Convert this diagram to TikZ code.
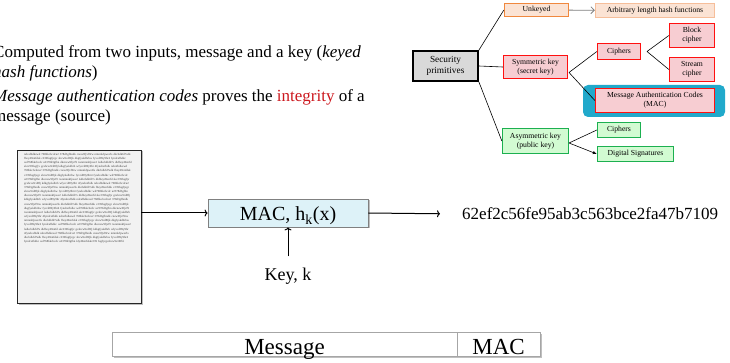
\documentclass[tikz,border=0pt]{standalone}
\usepackage{fontspec}
\setmainfont{Liberation Serif}
\usetikzlibrary{
    arrows.meta,
    shadows,
    calc,
    positioning
}
\definecolor{secgray}{HTML}{D9D9D9}
\definecolor{unkorange}{HTML}{F0883E}
\definecolor{unkfill}{HTML}{FBE3D4}
\definecolor{arbline}{HTML}{F6BE9A}
\definecolor{symred}{HTML}{FF1010}
\definecolor{symfill}{HTML}{F7CDD2}
\definecolor{asygreen}{HTML}{1CB050}
\definecolor{asyfill}{HTML}{D2FBD2}
\definecolor{macblue}{HTML}{21A9CB}
\definecolor{macfill}{HTML}{DDF2F8}
\definecolor{macline}{HTML}{808080}
\definecolor{docfill}{HTML}{F2F2F2}
\definecolor{docline}{HTML}{262626}
\definecolor{cellgray}{HTML}{A6A6A6}
\definecolor{integred}{RGB}{204,24,30}

\newcommand\hexchunk{ndcafbdkewd 768bkcbcdcu2 378d3gfbndk cnew9fjvf9rw nmnnkfpwe2ls dkcbdkfd7sdk fbey49enfdsk c239fugfjvgc shcw9cd8fjk dkgfyskdbrbw fyvcd89y9hr4 fyndcafbdkc wd768bkcbcdc u2378d3gfbn dkcnew9fjvf9 rwnmnnkfpwe2 lsdkcbdkfd7s dkfbey49enfd skc239fugfjv gcshcw9cd8fj kdkgfyskdbrb wfyvcd89y9hr 4fyndcafbdk }
\newcommand\hexhalf{ndcafbdkewd 768bkcbcdcu2 378d3gfbndk cnew9fjvf9rw nmnnkfpwe2ls dkcbdkfd7sdk fbey49enfdsk c239fugfjvgc shcw9cd8fjk dkgfyskdbrbw fyvcd89y9hr4 fyndcafbdkc wd768bkcbcdc u2378d3gfbn }

\begin{document}
\begin{tikzpicture}[x=1pt, y=-1pt,
    prim/.style={draw, align=center, inner sep=0pt, font=\fontsize{7.7}{9}\selectfont},
    unkbox/.style={prim, draw=unkorange, fill=unkfill, line width=1.3pt},
    symbox/.style={prim, draw=symred, fill=symfill, line width=1.3pt},
    asybox/.style={prim, draw=asygreen, fill=asyfill, line width=1.3pt},
    treearrow/.style={-{Latex[length=4pt,width=3.4pt]}, line width=0.6pt},
    flowarrow/.style={-{To[length=3pt,width=7pt]}, line width=1pt},
    boxshadow/.style={drop shadow={shadow xshift=1.5pt, shadow yshift=-1.5pt, fill=black!50, opacity=.5}},
    cellbox/.style={draw=cellgray, fill=white, line width=0.8pt, inner xsep=0pt, inner ysep=2pt,
        text height=20pt, text depth=0pt, font=\fontsize{23}{26}\selectfont, boxshadow}
]
    \useasboundingbox (0,0) rectangle (730,363);

    % text on the left (base is the last line)
    \node[anchor=base west, align=left, inner sep=0pt, font=\fontsize{17}{19.5}\selectfont] (itema) at (-7,77.5)
        {Computed from two inputs, message and a key (\textit{keyed}\\\textit{hash functions})};
    \node[anchor=base west, align=left, inner sep=0pt, font=\fontsize{17}{19.5}\selectfont] (itemb) at (-7,121.5)
        {\textit{Message authentication codes} proves the \textcolor{integred}{integrity} of a\\message (source)};

    % primitives tree
    \node[prim, fill=secgray, line width=1.8pt, minimum width=65, minimum height=30,
        font=\fontsize{9.3}{11}\selectfont] (sec) at (445.5,66) {Security\\primitives};
    \node[unkbox, minimum width=64, minimum height=13] (unk) at (536.5,10) {Unkeyed};
    \node[prim, draw=arbline, fill=unkfill, line width=1.3pt, minimum width=119, minimum height=14] (arb) at (655,10.5)
        {Arbitrary length hash functions};
    \node[symbox, minimum width=64, minimum height=23] (sym) at (535.5,67) {Symmetric key\\(secret key)};
    \node[symbox, minimum width=43, minimum height=16] (cs) at (619,51.5) {Ciphers};
    \node[symbox, minimum width=45, minimum height=24] (blk) at (692,35.5) {Block\\cipher};
    \node[symbox, minimum width=45, minimum height=24] (str) at (692,69.5) {Stream\\cipher};
    \node[fill=macblue, rounded corners=5pt, minimum width=142, minimum height=32, inner sep=0pt] (macbg) at (654,101) {};
    \node[symbox, minimum width=119, minimum height=24] (macc) at (655,100.5) {Message Authentication Codes\\(MAC)};
    \node[asybox, minimum width=66, minimum height=25] (asy) at (535.5,141) {Asymmetric key\\(public key)};
    \node[asybox, minimum width=43, minimum height=15] (ca) at (619,130) {Ciphers};
    \node[asybox, minimum width=76, minimum height=15] (dsig) at (635.5,154) {Digital Signatures};

    \coordinate (symo) at (569,72.5);
    \coordinate (cso) at (647,51.5);
    \coordinate (asyo) at (569,143);

    \draw[treearrow]
    (sec.north east) -- (unk.west)
    (sec.east) -- (sym.west)
    (sec.south east) -- (asy.west)
    (symo) -- (cs.west)
    (symo) -- (macc.west)
    (cso) -- (blk.west)
    (cso) -- (str.west)
    (asyo) -- (ca.west)
    (asyo) -- (dsig.west);
    \draw[-{Straight Barb[length=3.5pt,width=7pt]}, draw=black!50, line width=0.8pt] (unk) -- (arb);

    % MAC computation
    \node[draw=docline, fill=docfill, line width=0.9pt, minimum width=124, minimum height=153, inner sep=0pt, boxshadow]
        (doc) at (79,226.5) {};
    \node[anchor=north west, text width=109pt, inner sep=0pt, text=black!75, font=\fontsize{3}{4.15}\selectfont]
        (blob) at (24,153) {\hexchunk\hexchunk\hexchunk\hexchunk\hexchunk\hexhalf kfy49enfdskc239 fugfjvgcshcw9e10f6l.};
    \node[draw=macline, fill=macfill, line width=0.8pt, minimum width=160, minimum height=28, inner sep=0pt,
        text height=16pt, text depth=0pt, font=\fontsize{20}{24}\selectfont, boxshadow] (mac) at (288,213)
        {MAC, h\textsubscript{k}(x)};
    \node[anchor=base west, inner sep=0pt, text depth=0pt, font=\fontsize{17}{20}\selectfont] (hash) at (462,220)
        {62ef2c56fe95ab3c563bce2fa47b7109};
    \node[anchor=base, inner sep=0pt, font=\fontsize{18}{20}\selectfont] (key) at (288,280) {Key, k};

    \draw[flowarrow] (doc.east |- mac.west) -- (mac.west);
    \draw[flowarrow, shorten >=22pt] (mac.east) -- (hash.west);
    \draw[flowarrow] ([yshift=11pt]key.north) -- (key.north |- mac.south);

    % message with tag
    \node[cellbox, minimum width=345] (msg) at (284.5,344) {Message};
    \node[cellbox, minimum width=83] (tag) at (498.5,344) {MAC};
\end{tikzpicture}
\end{document}
